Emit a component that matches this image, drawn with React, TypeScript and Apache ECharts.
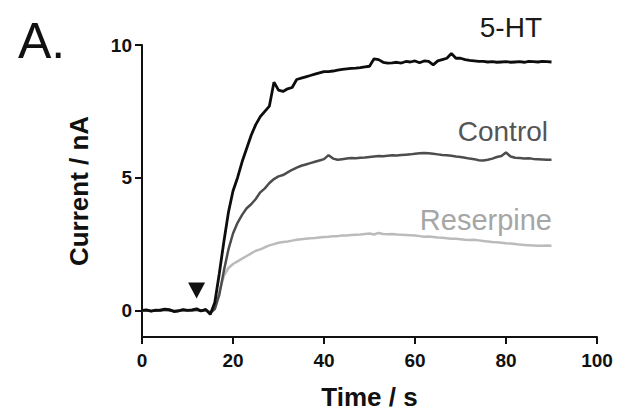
import React, { useEffect, useRef } from "react";
import * as echarts from "echarts";

const times = [
  0, 1, 2, 3, 4, 5, 6, 7, 8, 9, 10, 11, 12, 13, 14, 15, 16, 17, 18, 19,
  20, 21, 22, 23, 24, 25, 26, 27, 28, 29, 30, 31, 32, 33, 34, 35, 36, 37, 38, 39,
  40, 41, 42, 43, 44, 45, 46, 47, 48, 49, 50, 51, 52, 53, 54, 55, 56, 57, 58, 59,
  60, 61, 62, 63, 64, 65, 66, 67, 68, 69, 70, 71, 72, 73, 74, 75, 76, 77, 78, 79,
  80, 81, 82, 83, 84, 85, 86, 87, 88, 89, 90,
];

const serotonin = [
  0, 0.02, -0.03, 0.01, 0, 0.05, 0.03, -0.04, -0.02, 0.03, 0, 0.02, 0.06, -0.02, 0.04, -0.15,
  0.3, 1.4, 2.6, 3.7, 4.5, 5.0, 5.6, 6.1, 6.6, 7.0, 7.3, 7.5, 7.7, 8.6,
  8.3, 8.25, 8.35, 8.4, 8.7, 8.75, 8.8, 8.85, 8.9, 8.95,
  9.0, 9.0, 9.02, 9.05, 9.08, 9.1, 9.12, 9.13, 9.15, 9.18,
  9.2, 9.48, 9.45, 9.35, 9.32, 9.33, 9.35, 9.32, 9.38, 9.36,
  9.4, 9.33, 9.4, 9.38, 9.25, 9.4, 9.45, 9.5, 9.68, 9.5,
  9.5, 9.45, 9.42, 9.4, 9.38, 9.38, 9.36, 9.37, 9.35, 9.36,
  9.37, 9.35, 9.36, 9.37, 9.35, 9.38, 9.37, 9.36, 9.38, 9.37, 9.36,
];

const control = [
  0, 0.01, -0.02, 0, 0.02, 0.03, 0.01, -0.02, -0.01, 0.02, 0.01, 0, 0.03, -0.01, 0.02, -0.1,
  0.05, 0.6, 1.5, 2.3, 2.9, 3.3, 3.6, 3.85, 4.0, 4.2, 4.45, 4.6, 4.8, 4.95,
  5.05, 5.1, 5.2, 5.3, 5.38, 5.45, 5.5, 5.55, 5.6, 5.65,
  5.7, 5.85, 5.72, 5.68, 5.7, 5.72, 5.74, 5.73, 5.75, 5.76,
  5.78, 5.8, 5.82, 5.81, 5.83, 5.85, 5.84, 5.86, 5.87, 5.88,
  5.9, 5.92, 5.93, 5.92, 5.9, 5.88, 5.86, 5.85, 5.83, 5.8,
  5.78, 5.75, 5.72, 5.7, 5.66, 5.65, 5.68, 5.72, 5.78, 5.82,
  5.95, 5.8, 5.75, 5.74, 5.72, 5.73, 5.71, 5.7, 5.69, 5.68, 5.68,
];

const reserpine = [
  0, 0.01, 0, -0.01, 0.02, 0.01, 0, -0.02, 0.01, 0.02, 0, 0.01, 0.02, 0, 0.01, -0.05,
  0.1, 0.7, 1.3, 1.6, 1.75, 1.85, 1.95, 2.05, 2.15, 2.25, 2.3, 2.38, 2.45, 2.5,
  2.55, 2.58, 2.6, 2.63, 2.66, 2.68, 2.7, 2.72, 2.73, 2.75,
  2.77, 2.78, 2.8, 2.8, 2.82, 2.82, 2.84, 2.85, 2.86, 2.88,
  2.9, 2.86, 2.92, 2.88, 2.87, 2.88, 2.86, 2.85, 2.84, 2.83,
  2.82, 2.8, 2.78, 2.79, 2.77, 2.75, 2.74, 2.72, 2.7, 2.7,
  2.68, 2.66, 2.65, 2.66, 2.64, 2.62, 2.6, 2.58, 2.57, 2.55,
  2.53, 2.52, 2.5, 2.48, 2.47, 2.46, 2.45, 2.44, 2.44, 2.45, 2.44,
];

const stimulusMarker = [[12, 0.75]];
const yTicks = [0, 5, 10];
const seriesLabels = ["5-HT", "Control", "Reserpine"];

const FONT = "'Liberation Sans', Arial, sans-serif";

export default function App() {
  const ref = useRef<HTMLDivElement>(null);

  useEffect(() => {
    document.body.style.margin = "0";
    if (!ref.current) return;
    const chart = echarts.init(ref.current, null, { renderer: "svg" });
    const pairs = (vals: number[]) => times.map((t, i) => [t, vals[i]]);
    const axisStyle = { color: "#111", width: 2 };
    chart.setOption({
      animation: false,
      backgroundColor: "#fff",
      grid: { left: 142, right: 22, top: 45, bottom: 72 },
      xAxis: {
        type: "value",
        min: 0,
        max: 100,
        interval: 20,
        name: "Time / s",
        nameLocation: "middle",
        nameGap: 47,
        nameTextStyle: { fontFamily: FONT, fontSize: 26, fontWeight: "bold", color: "#111" },
        axisLine: { onZero: false, lineStyle: axisStyle },
        axisTick: { show: true, length: 7, lineStyle: axisStyle },
        axisLabel: { margin: 14, fontFamily: FONT, fontSize: 19, fontWeight: "bold", color: "#111" },
        splitLine: { show: false },
      },
      yAxis: {
        type: "value",
        min: -1,
        max: 10,
        name: "Current / nA",
        nameLocation: "middle",
        nameGap: 50,
        nameTextStyle: { fontFamily: FONT, fontSize: 26, fontWeight: "bold", color: "#111" },
        axisLine: { show: true, onZero: false, lineStyle: axisStyle },
        axisTick: { show: true, length: 7, lineStyle: axisStyle, customValues: yTicks },
        axisLabel: {
          margin: 10,
          fontFamily: FONT,
          fontSize: 19,
          fontWeight: "bold",
          color: "#111",
          customValues: yTicks,
        },
        splitLine: { show: false },
      },
      series: [
        {
          name: seriesLabels[2],
          type: "line",
          data: pairs(reserpine),
          showSymbol: false,
          lineStyle: { color: "#bbbbbb", width: 2.5 },
        },
        {
          name: seriesLabels[1],
          type: "line",
          data: pairs(control),
          showSymbol: false,
          lineStyle: { color: "#4d4d4d", width: 2.5 },
        },
        {
          name: seriesLabels[0],
          type: "line",
          data: pairs(serotonin),
          showSymbol: false,
          lineStyle: { color: "#0d0d0d", width: 2.8 },
        },
        {
          type: "scatter",
          data: stimulusMarker,
          symbol: "triangle",
          symbolRotate: 180,
          symbolSize: [17, 16],
          itemStyle: { color: "#111", opacity: 1 },
        },
      ],
      graphic: [
        {
          type: "text",
          left: 18,
          top: 16,
          style: { text: "A.", font: `normal 50px ${FONT}`, fill: "#111" },
        },
        {
          type: "text",
          x: 542,
          y: 27,
          style: { text: seriesLabels[0], font: `normal 28px ${FONT}`, fill: "#1a1a1a", align: "right", verticalAlign: "middle" },
        },
        {
          type: "text",
          x: 548,
          y: 131,
          style: { text: seriesLabels[1], font: `normal 28px ${FONT}`, fill: "#555555", align: "right", verticalAlign: "middle" },
        },
        {
          type: "text",
          x: 552,
          y: 220,
          style: { text: seriesLabels[2], font: `normal 29px ${FONT}`, fill: "#a6a6a6", align: "right", verticalAlign: "middle" },
        },
      ],
    });
    return () => chart.dispose();
  }, []);

  return <div ref={ref} style={{ width: 619, height: 415 }} />;
}
